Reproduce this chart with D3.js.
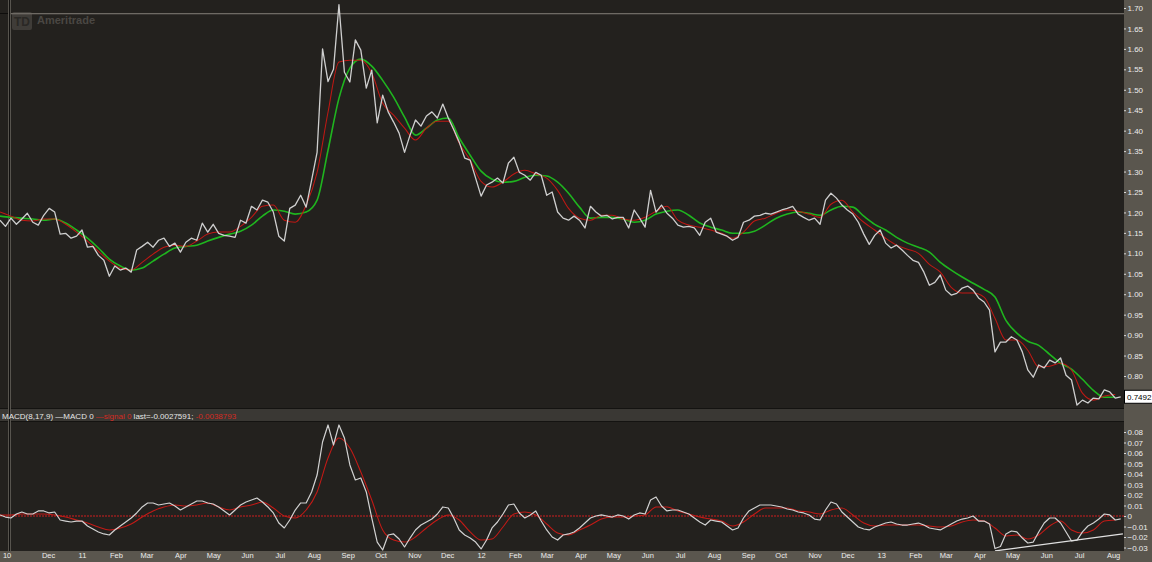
<!DOCTYPE html>
<html><head><meta charset="utf-8">
<script src="https://cdn.jsdelivr.net/npm/d3@7"></script>
<style>
html,body{margin:0;padding:0;background:#23211e;overflow:hidden}
svg{display:block}
text{font-family:"Liberation Sans",Arial,sans-serif}
</style></head><body>
<svg id="c" width="1152" height="562"></svg>
<script>
// ---------- data ----------
const startDate = "2010-10-18";
const endDate = "2013-08-11";
const priceStepDays = 5;   // spacing of price / MACD samples
const avgStepDays = 10;    // spacing of moving-average / signal samples

const price = [1.181,1.166,1.186,1.171,1.184,1.198,1.176,1.169,1.193,1.210,
1.201,1.147,1.149,1.137,1.142,1.157,1.115,1.117,1.095,1.083,
1.044,1.069,1.059,1.064,1.054,1.108,1.117,1.127,1.115,1.132,
1.137,1.117,1.125,1.103,1.127,1.137,1.132,1.174,1.152,1.171,
1.149,1.144,1.142,1.139,1.181,1.174,1.215,1.206,1.230,1.225,
1.201,1.142,1.130,1.210,1.218,1.242,1.213,1.279,1.347,1.600,
1.520,1.550,1.708,1.543,1.519,1.622,1.597,1.504,1.548,1.419,
1.487,1.446,1.421,1.394,1.347,1.389,1.426,1.411,1.436,1.446,
1.431,1.465,1.431,1.402,1.372,1.333,1.328,1.284,1.240,1.267,
1.274,1.284,1.272,1.321,1.335,1.298,1.291,1.279,1.298,1.291,
1.242,1.250,1.201,1.186,1.181,1.191,1.181,1.162,1.215,1.201,
1.191,1.193,1.184,1.188,1.188,1.162,1.206,1.186,1.164,1.254,
1.201,1.218,1.198,1.186,1.169,1.164,1.166,1.162,1.144,1.176,
1.186,1.152,1.147,1.142,1.132,1.139,1.176,1.181,1.191,1.193,
1.198,1.196,1.201,1.206,1.210,1.215,1.196,1.188,1.181,1.186,
1.171,1.230,1.247,1.235,1.218,1.206,1.196,1.176,1.147,1.122,
1.144,1.157,1.125,1.113,1.120,1.108,1.095,1.083,1.078,1.054,
1.022,1.029,1.047,1.010,0.998,1.002,1.015,1.020,1.010,0.991,
0.981,0.961,0.859,0.883,0.883,0.896,0.888,0.859,0.815,0.797,
0.827,0.820,0.839,0.832,0.844,0.802,0.790,0.729,0.741,0.734,
0.746,0.744,0.766,0.761,0.746,0.7492];

const fastAvg = [1.201,1.191,1.181,1.179,1.184,1.184,1.171,1.152,1.130,1.105,
1.081,1.064,1.059,1.078,1.098,1.115,1.120,1.117,1.130,1.147,
1.152,1.152,1.166,1.188,1.215,1.218,1.181,1.176,1.218,1.298,
1.445,1.568,1.572,1.572,1.541,1.467,1.438,1.406,1.377,1.406,
1.423,1.423,1.369,1.328,1.276,1.262,1.274,1.294,1.303,1.294,
1.284,1.254,1.210,1.186,1.181,1.193,1.193,1.184,1.181,1.188,
1.203,1.215,1.181,1.169,1.164,1.157,1.149,1.137,1.152,1.179,
1.186,1.198,1.206,1.203,1.196,1.188,1.220,1.230,1.201,1.176,
1.157,1.137,1.120,1.110,1.100,1.073,1.054,1.017,1.003,1.003,
0.993,0.941,0.888,0.888,0.863,0.822,0.824,0.831,0.814,0.758,
0.741,0.751,0.755];

const slowAvg = [1.191,1.188,1.186,1.184,1.181,1.184,1.174,1.157,1.137,1.113,
1.086,1.069,1.059,1.064,1.081,1.098,1.113,1.117,1.120,1.130,
1.139,1.147,1.154,1.169,1.191,1.206,1.203,1.196,1.201,1.230,
1.352,1.479,1.553,1.575,1.558,1.523,1.482,1.433,1.389,1.406,
1.426,1.431,1.382,1.340,1.301,1.281,1.274,1.276,1.286,1.291,
1.289,1.274,1.247,1.213,1.186,1.188,1.188,1.184,1.176,1.181,
1.196,1.203,1.206,1.193,1.174,1.164,1.157,1.149,1.149,1.154,
1.169,1.186,1.196,1.201,1.198,1.193,1.206,1.215,1.213,1.191,
1.171,1.157,1.139,1.125,1.115,1.103,1.078,1.059,1.042,1.027,
1.012,0.993,0.936,0.905,0.885,0.875,0.853,0.831,0.817,0.792,
0.765,0.748,0.748];

const macdValues = [0.0010,-0.0010,-0.0019,0.0019,0.0038,0.0019,0.0019,0.0048,0.0048,0.0029,
0.0038,-0.0038,-0.0048,-0.0057,-0.0048,-0.0048,-0.0095,-0.0124,-0.0152,-0.0171,
-0.0181,-0.0133,-0.0095,-0.0057,-0.0019,0.0029,0.0086,0.0124,0.0124,0.0105,
0.0114,0.0124,0.0095,0.0057,0.0086,0.0114,0.0143,0.0143,0.0124,0.0114,
0.0086,0.0048,0.0010,0.0057,0.0105,0.0133,0.0152,0.0171,0.0133,0.0086,
0.0029,-0.0067,-0.0114,-0.0038,0.0057,0.0124,0.0124,0.0229,0.0390,0.0705,
0.0867,0.0676,0.0867,0.0743,0.0486,0.0343,0.0362,0.0229,-0.0019,-0.0248,
-0.0324,-0.0181,-0.0171,-0.0219,-0.0295,-0.0210,-0.0133,-0.0086,-0.0057,-0.0029,
0.0019,0.0086,0.0076,-0.0019,-0.0133,-0.0181,-0.0210,-0.0248,-0.0314,-0.0229,
-0.0114,-0.0057,0.0019,0.0105,0.0114,0.0029,-0.0019,0.0010,0.0048,-0.0048,
-0.0133,-0.0200,-0.0229,-0.0181,-0.0171,-0.0152,-0.0114,-0.0067,-0.0019,0.0000,
0.0010,0.0000,-0.0010,0.0010,0.0000,-0.0029,0.0010,0.0029,0.0019,0.0152,
0.0181,0.0095,0.0048,0.0057,0.0057,0.0038,0.0019,-0.0019,-0.0057,-0.0086,
-0.0038,-0.0048,-0.0057,-0.0095,-0.0133,-0.0114,-0.0019,0.0048,0.0076,0.0105,
0.0105,0.0105,0.0095,0.0086,0.0067,0.0057,0.0038,0.0029,0.0010,-0.0029,
-0.0038,0.0057,0.0133,0.0114,0.0038,-0.0010,-0.0057,-0.0105,-0.0124,-0.0133,
-0.0105,-0.0086,-0.0067,-0.0057,-0.0076,-0.0086,-0.0086,-0.0076,-0.0067,-0.0086,
-0.0114,-0.0124,-0.0133,-0.0105,-0.0076,-0.0048,-0.0029,-0.0019,0.0000,-0.0048,
-0.0048,-0.0076,-0.0310,-0.0290,-0.0171,-0.0143,-0.0152,-0.0210,-0.0257,-0.0248,
-0.0152,-0.0067,-0.0019,-0.0019,-0.0067,-0.0152,-0.0238,-0.0229,-0.0152,-0.0095,
-0.0067,-0.0029,0.0019,0.0010,-0.0038,-0.0028];

const signalValues = [0.0010,0.0010,0.0019,0.0019,0.0019,0.0010,-0.0010,-0.0038,-0.0067,-0.0105,
-0.0133,-0.0114,-0.0076,-0.0010,0.0048,0.0086,0.0105,0.0095,0.0105,0.0124,
0.0086,0.0057,0.0086,0.0105,0.0133,0.0076,0.0000,-0.0019,0.0057,0.0229,
0.0552,0.0743,0.0648,0.0419,0.0152,-0.0133,-0.0229,-0.0248,-0.0200,-0.0114,
-0.0038,0.0010,-0.0038,-0.0152,-0.0229,-0.0219,-0.0105,0.0019,0.0038,0.0010,
-0.0076,-0.0162,-0.0181,-0.0133,-0.0086,-0.0029,-0.0010,-0.0010,0.0000,0.0010,
0.0086,0.0086,0.0048,0.0019,-0.0010,-0.0029,-0.0048,-0.0095,-0.0057,0.0019,
0.0076,0.0076,0.0076,0.0048,0.0038,0.0019,0.0057,0.0076,0.0010,-0.0067,
-0.0095,-0.0086,-0.0086,-0.0086,-0.0086,-0.0095,-0.0105,-0.0095,-0.0057,-0.0038,
-0.0048,-0.0114,-0.0190,-0.0181,-0.0219,-0.0181,-0.0095,-0.0048,-0.0133,-0.0162,
-0.0133,-0.0048,-0.0039];

const priceTicks = [1.70,1.65,1.60,1.55,1.50,1.45,1.40,1.35,1.30,1.25,1.20,1.15,1.10,1.05,1.00,0.95,0.90,0.85,0.80];
const macdTicks = [0.08,0.07,0.06,0.05,0.04,0.03,0.02,0.01,0,-0.01,-0.02,-0.03];
const monthTickDates = ["2010-10-24","2010-12-01","2011-01-01","2011-02-01","2011-03-01","2011-04-01","2011-05-01","2011-06-01","2011-07-01","2011-08-01","2011-09-01","2011-10-01","2011-11-01","2011-12-01","2012-01-01","2012-02-01","2012-03-01","2012-04-01","2012-05-01","2012-06-01","2012-07-01","2012-08-01","2012-09-01","2012-10-01","2012-11-01","2012-12-01","2013-01-01","2013-02-01","2013-03-01","2013-04-01","2013-05-01","2013-06-01","2013-07-01","2013-08-01"];
const monthTickLabels = ["10","Dec","11","Feb","Mar","Apr","May","Jun","Jul","Aug","Sep","Oct","Nov","Dec","12","Feb","Mar","Apr","May","Jun","Jul","Aug","Sep","Oct","Nov","Dec","13","Feb","Mar","Apr","May","Jun","Jul","Aug"];
const lastPrice = 0.7492;
const highLevel = 1.686;
const macdTrendDates = ["2013-04-15","2013-08-10"];
const macdTrendValues = [-0.0333,-0.0171];
const headerParts = ["MACD(8,17,9) ","\u2014MACD 0 ","\u2014signal 0 ","last=-0.0027591; ","-0.0038793"];
const headerColors = ["#e6e6e6","#e6e6e6","#d42a22","#e6e6e6","#d42a22"];

// ---------- layout ----------
const W = 1152, H = 562;
const plotR = 1124;
const mainTop = 0, mainBot = 408;
const headTop = 408, headBot = 422;
const macdTop = 422, macdBot = 551;

const parse = d3.timeParse("%Y-%m-%d");
const t0 = parse(startDate);
const x = d3.scaleTime().domain([t0, parse(endDate)]).range([0, plotR]);
const y = d3.scaleLinear().domain([1.70, 0.80]).range([8, 376]);
const ym = d3.scaleLinear().domain([0.08, -0.03]).range([432, 547.5]);

const svg = d3.select("#c");
svg.append("rect").attr("x",0).attr("y",0).attr("width",W).attr("height",H).attr("fill","#23211e");
svg.append("rect").attr("x",plotR).attr("y",0).attr("width",W-plotR).attr("height",H).attr("fill","#5a564e");
svg.append("rect").attr("x",0).attr("y",headTop).attr("width",plotR).attr("height",headBot-headTop).attr("fill","#3a3834");
svg.append("line").attr("x1",0).attr("x2",plotR).attr("y1",headTop+0.5).attr("y2",headTop+0.5).attr("stroke","#141311");
svg.append("line").attr("x1",0).attr("x2",plotR).attr("y1",headBot-0.5).attr("y2",headBot-0.5).attr("stroke","#141311");
svg.append("rect").attr("x",0).attr("y",macdBot).attr("width",plotR).attr("height",H-macdBot).attr("fill","#5a564e");

const defs = svg.append("defs");
defs.append("clipPath").attr("id","cm").append("rect").attr("x",0).attr("y",mainTop).attr("width",plotR).attr("height",mainBot-mainTop);
defs.append("clipPath").attr("id","cd").append("rect").attr("x",0).attr("y",macdTop).attr("width",plotR).attr("height",macdBot-macdTop);

// watermark logo
const logo = svg.append("g");
logo.append("rect").attr("x",12).attr("y",12).attr("width",20).attr("height",18).attr("rx",2).attr("fill","#3f3c38");
logo.append("text").attr("x",22).attr("y",26).attr("text-anchor","middle").attr("font-size",12).attr("font-weight","bold").attr("fill","#2a2825").text("TD");
logo.append("text").attr("x",37).attr("y",24).attr("font-size",11).attr("font-weight","bold").attr("fill","#4a4743").text("Ameritrade");

// frame lines
svg.append("line").attr("x1",0).attr("x2",plotR).attr("y1",13.5).attr("y2",13.5).attr("stroke","#0e0d0c");
svg.append("line").attr("x1",10).attr("x2",plotR).attr("y1",y(highLevel)).attr("y2",y(highLevel)).attr("stroke","#8a867e");
svg.append("line").attr("x1",9.5).attr("x2",9.5).attr("y1",0).attr("y2",macdBot).attr("stroke","#57544e").attr("stroke-width",3);
svg.append("line").attr("x1",9.5).attr("x2",9.5).attr("y1",0).attr("y2",macdBot).attr("stroke","#121110").attr("stroke-width",1);

const dateAt = step => (d,i) => d3.timeDay.offset(t0, i*step);

// ---------- main panel ----------
const gm = svg.append("g").attr("clip-path","url(#cm)");
const lineP = d3.line().x((d,i)=>x(dateAt(priceStepDays)(d,i))).y(d=>y(d));
const lineA = d3.line().x((d,i)=>x(dateAt(avgStepDays)(d,i))).y(d=>y(d)).curve(d3.curveMonotoneX);
gm.append("path").datum(slowAvg).attr("d",lineA).attr("fill","none").attr("stroke","#1fb51f").attr("stroke-width",1.6);
gm.append("path").datum(fastAvg).attr("d",lineA).attr("fill","none").attr("stroke","#bf1814").attr("stroke-width",1.05);
gm.append("path").datum(price).attr("d",lineP).attr("fill","none").attr("stroke","#cfcfcf").attr("stroke-width",1.3).attr("stroke-linejoin","round");

// ---------- macd panel ----------
const gd = svg.append("g").attr("clip-path","url(#cd)");
gd.append("line").attr("x1",0).attr("x2",plotR).attr("y1",ym(0)).attr("y2",ym(0)).attr("stroke","#d01e1e").attr("stroke-dasharray","2,1");
const lineM = d3.line().x((d,i)=>x(dateAt(priceStepDays)(d,i))).y(d=>ym(d));
const lineS = d3.line().x((d,i)=>x(dateAt(avgStepDays)(d,i))).y(d=>ym(d)).curve(d3.curveMonotoneX);
gd.append("path").datum(signalValues).attr("d",lineS).attr("fill","none").attr("stroke","#c41a16").attr("stroke-width",1.05);
gd.append("path").datum(macdValues).attr("d",lineM).attr("fill","none").attr("stroke","#d2d2d2").attr("stroke-width",1.2).attr("stroke-linejoin","round");
gd.append("path").datum(macdTrendDates.map((d,i)=>[parse(d),macdTrendValues[i]]))
  .attr("d",d3.line().x(d=>x(d[0])).y(d=>ym(d[1]))).attr("fill","none").attr("stroke","#e0e0e0").attr("stroke-width",1.2);

// header text
const ht = svg.append("text").attr("x",2).attr("y",418.5).attr("font-size",8);
headerParts.forEach((p,i)=>ht.append("tspan").attr("fill",headerColors[i]).text(p));

// ---------- axes ----------
function styleAxis(g){
  g.select(".domain").remove();
  g.selectAll(".tick line").attr("stroke","#d8d8d8");
  g.selectAll(".tick text").attr("fill","#ececec").attr("font-size",8).attr("font-family","Liberation Sans, Arial, sans-serif");
}
svg.append("g").attr("transform",`translate(${plotR},0)`)
  .call(d3.axisRight(y).tickValues(priceTicks).tickFormat(d3.format(".2f")).tickSize(2).tickPadding(1.5))
  .call(styleAxis);
svg.append("g").attr("transform",`translate(${plotR},0)`)
  .call(d3.axisRight(ym).tickValues(macdTicks).tickFormat(d=>d===0?"0":d3.format(".2f")(d)).tickSize(2).tickPadding(1.5))
  .call(styleAxis);
const xa = svg.append("g").attr("transform",`translate(0,${macdBot})`)
  .call(d3.axisBottom(x).tickValues(monthTickDates.map(parse)).tickFormat((d,i)=>monthTickLabels[i]).tickSize(0).tickPadding(1.5))
  .call(styleAxis);
xa.selectAll(".tick text").attr("font-size",7.5);

// last price marker
const ly = y(lastPrice);
svg.append("rect").attr("x",plotR+0.5).attr("y",ly-6.5).attr("width",W-plotR).attr("height",13).attr("fill","#ffffff").attr("stroke","#000");
svg.append("text").attr("x",plotR+3).attr("y",ly+3).attr("font-size",8).attr("fill","#000").text(d3.format(".4f")(lastPrice));
</script>
</body></html>
